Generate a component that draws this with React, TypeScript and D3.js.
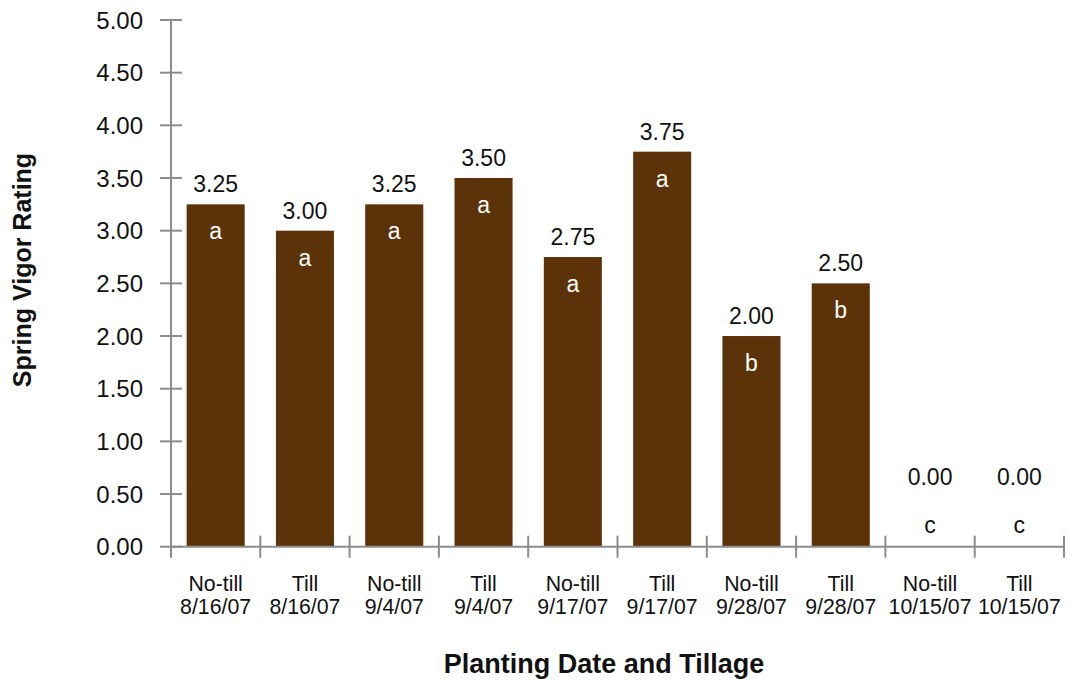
import React from "react";
import * as d3 from "d3";

const categories = [
  ["No-till", "8/16/07"],
  ["Till", "8/16/07"],
  ["No-till", "9/4/07"],
  ["Till", "9/4/07"],
  ["No-till", "9/17/07"],
  ["Till", "9/17/07"],
  ["No-till", "9/28/07"],
  ["Till", "9/28/07"],
  ["No-till", "10/15/07"],
  ["Till", "10/15/07"],
];
const values = [3.25, 3.0, 3.25, 3.5, 2.75, 3.75, 2.0, 2.5, 0.0, 0.0];
const letters = ["a", "a", "a", "a", "a", "a", "b", "b", "c", "c"];
const yTicks = [0, 0.5, 1, 1.5, 2, 2.5, 3, 3.5, 4, 4.5, 5];

const W = 1075;
const H = 682;
const FONT = "'Liberation Sans', Arial, Helvetica, sans-serif";
const AXIS = "#8c8c8c";
const BAR = "#5c3208";

export default function App() {
  const left = 171;
  const right = 1064;
  const y0 = 546.7;
  const yTop = 20;
  const keys = categories.map((_, i) => String(i));
  const x = d3.scaleBand<string>().domain(keys).range([left, right]).paddingInner(0.35).paddingOuter(0.175);
  const y = d3.scaleLinear().domain([0, 5]).range([y0, yTop]);
  const step = (right - left) / categories.length;
  const boundaries = d3.range(categories.length + 1).map((i) => left + i * step);

  return (
    <svg width={W} height={H} style={{ position: "absolute", left: 0, top: 0, background: "#fff" }} fontFamily={FONT}>
      {values.map((v, i) => (
        <rect key={"b" + i} x={x(String(i))} y={y(v)} width={x.bandwidth()} height={y0 - y(v)} fill={BAR} />
      ))}
      <line x1={left} x2={left} y1={yTop} y2={y0 + 11} stroke={AXIS} strokeWidth={2} />
      {yTicks.map((t) => (
        <g key={"yt" + t}>
          <line x1={left - 11} x2={left + 11} y1={y(t)} y2={y(t)} stroke={AXIS} strokeWidth={2} />
          <text x={143} y={y(t)} dy="0.36em" textAnchor="end" fontSize={24} fill="#111">
            {t.toFixed(2)}
          </text>
        </g>
      ))}
      <line x1={left} x2={right} y1={y0} y2={y0} stroke={AXIS} strokeWidth={2} />
      {boundaries.slice(1).map((bx, i) => (
        <line key={"xt" + i} x1={bx} x2={bx} y1={y0 - 11} y2={y0 + 11} stroke={AXIS} strokeWidth={2} />
      ))}
      {categories.map((c, i) => {
        const cx = (x(String(i)) as number) + x.bandwidth() / 2;
        return (
          <text key={"c" + i} x={cx} textAnchor="middle" fontSize={21.3} fill="#111">
            <tspan x={cx} y={591}>{c[0]}</tspan>
            <tspan x={cx} y={614}>{c[1]}</tspan>
          </text>
        );
      })}
      {values.map((v, i) => {
        const cx = (x(String(i)) as number) + x.bandwidth() / 2;
        const top = y(v);
        const zero = v === 0;
        return (
          <g key={"l" + i}>
            <text x={cx} y={zero ? y0 - 62 : top - 12} textAnchor="middle" fontSize={23} fill="#111">
              {v.toFixed(2)}
            </text>
            <text x={cx} y={zero ? y0 - 14 : top + 35} textAnchor="middle" fontSize={23} fill={zero ? "#111" : "#fff"}>
              {letters[i]}
            </text>
          </g>
        );
      })}
      <text x={604} y={673} textAnchor="middle" fontSize={27} fontWeight="bold" fill="#111">
        Planting Date and Tillage
      </text>
      <text transform={`translate(31,270) rotate(-90)`} textAnchor="middle" fontSize={25} fontWeight="bold" fill="#111">
        Spring Vigor Rating
      </text>
    </svg>
  );
}
